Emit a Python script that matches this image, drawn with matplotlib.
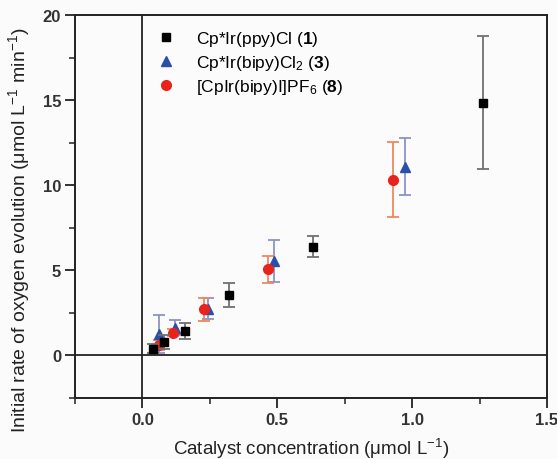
import matplotlib
matplotlib.use("Agg")
import matplotlib.pyplot as plt
from matplotlib.ticker import MultipleLocator

plt.rcParams['font.family'] = ['Liberation Sans', 'DejaVu Sans']
plt.rcParams['mathtext.fontset'] = 'custom'
plt.rcParams['mathtext.rm'] = 'Liberation Sans'
plt.rcParams['mathtext.it'] = 'Liberation Sans'
plt.rcParams['mathtext.bf'] = 'Liberation Sans:bold'

# Cp*Ir(ppy)Cl (1)
x1 = [0.04, 0.08, 0.157, 0.32, 0.632, 1.262]
y1 = [0.4, 0.8, 1.43, 3.55, 6.4, 14.85]
e1 = [0.25, 0.4, 0.45, 0.7, 0.6, 3.9]

# Cp*Ir(bipy)Cl2 (3)
x3 = [0.062, 0.121, 0.245, 0.489, 0.974]
y3 = [1.27, 1.63, 2.75, 5.55, 11.1]
e3 = [1.1, 0.45, 0.6, 1.23, 1.7]

# [CpIr(bipy)I]PF6 (8)
x8 = [0.061, 0.115, 0.228, 0.464, 0.929]
y8 = [0.6, 1.33, 2.7, 5.06, 10.33]
e8 = [0.3, 0.2, 0.68, 0.78, 2.2]

series = [
    (x1, y1, e1, 's', 'black', '#707070', 6, r'Cp*Ir(ppy)Cl ($\mathbf{1}$)'),
    (x3, y3, e3, '^', '#2b4fa8', '#8c93c2', 7.5, r'Cp*Ir(bipy)Cl$_2$ ($\mathbf{3}$)'),
    (x8, y8, e8, 'o', '#e8231c', '#f0875e', 7, r'[CpIr(bipy)I]PF$_6$ ($\mathbf{8}$)'),
]

fig = plt.figure(figsize=(5.57, 4.6), dpi=100)
fig.patch.set_facecolor('#fbfbfc')
ax = fig.add_axes([0.1346, 0.1326, 0.8474, 0.8326])
ax.set_facecolor('#fbfbfc')

ax.axhline(0, color='#222222', lw=1.3, zorder=1)
ax.axvline(0, color='#222222', lw=1.3, zorder=1)

for i, (x, y, e, m, c, ec, ms, lab) in enumerate(series):
    z = 4 if i == 0 else 3
    ax.errorbar(x, y, yerr=e, fmt='none', ecolor=ec, elinewidth=1.3,
                capsize=4, capthick=1.3, zorder=z)
    ax.plot(x, y, linestyle='none', marker=m, color=c, ms=ms, zorder=z + 0.5,
            label=lab)

ax.set_xlim(-0.25, 1.5)
ax.set_ylim(-2.5, 20)
ax.xaxis.set_major_locator(MultipleLocator(0.5))
ax.xaxis.set_minor_locator(MultipleLocator(0.25))
ax.yaxis.set_major_locator(MultipleLocator(5))
ax.yaxis.set_minor_locator(MultipleLocator(2.5))
ax.xaxis.set_major_formatter(plt.FuncFormatter(lambda v, p: f'{v:.1f}'))
ax.tick_params(which='major', direction='out', length=7, width=1.3,
               labelsize=12, labelcolor='#333333', pad=3, color='#222222')
ax.tick_params(which='minor', direction='out', length=4, width=1.1, color='#222222')
ax.tick_params(top=False, right=False)
for lbl in ax.get_xticklabels() + ax.get_yticklabels():
    lbl.set_fontweight('bold')
for s in ax.spines.values():
    s.set_linewidth(1.4)
    s.set_color('#222222')

ax.set_xlabel(r'Catalyst concentration ($\mu$mol L$^{-1}$)', fontsize=13.5,
              color='#222222')
ax.set_ylabel(r'Initial rate of oxygen evolution ($\mu$mol L$^{-1}$ min$^{-1}$)',
              fontsize=14, color='#222222')
ax.xaxis.set_label_coords(0.5, -0.1)
ax.yaxis.set_label_coords(-0.09, 0.44)

ax.legend(loc='upper left', bbox_to_anchor=(0.05, 19.2), bbox_transform=ax.transData,
          frameon=False, fontsize=12.5, handletextpad=1.1, labelspacing=0.3,
          handlelength=1.2, borderaxespad=0, borderpad=0)

fig.savefig('out.png', dpi=100, facecolor=fig.get_facecolor())
